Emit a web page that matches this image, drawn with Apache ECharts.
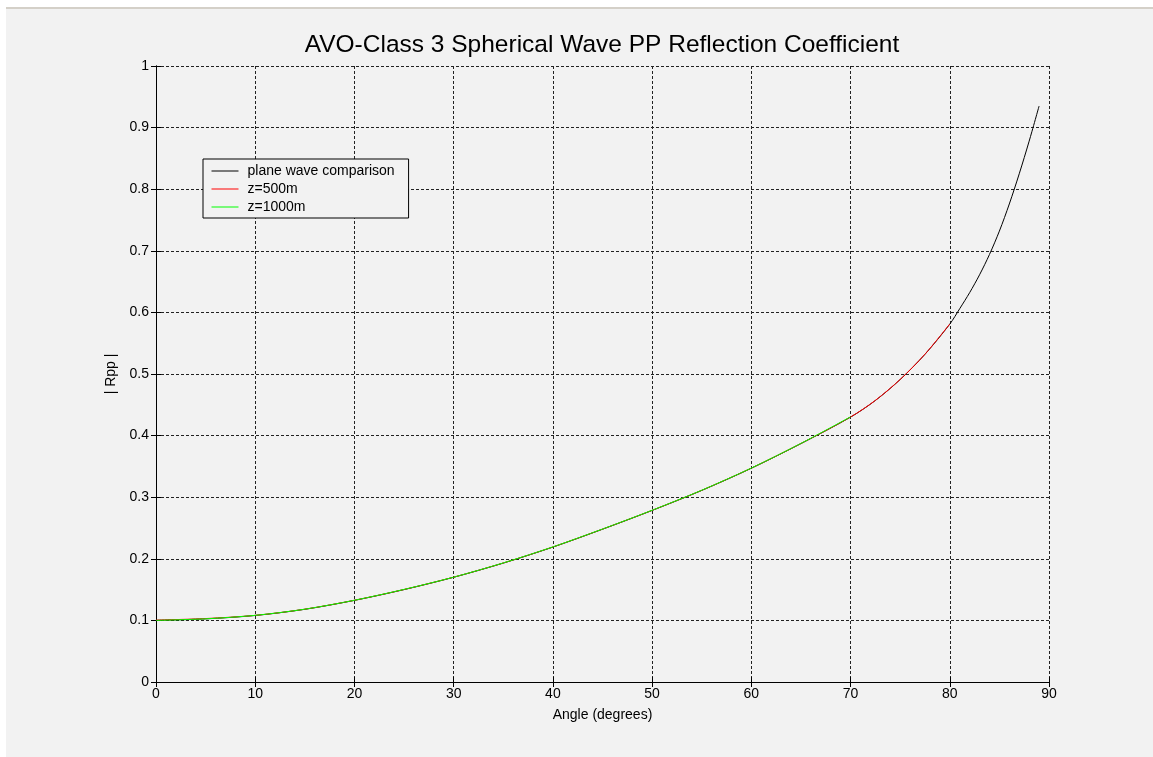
<!DOCTYPE html>
<html>
<head>
<meta charset="utf-8">
<script src="https://cdn.jsdelivr.net/npm/echarts@6/dist/echarts.min.js"></script>
<style>
html,body{margin:0;padding:0;background:#ffffff;width:1153px;height:757px;overflow:hidden;}
#bg{position:absolute;left:6px;top:7px;width:1147px;height:750px;background:#f2f2f2;border-top:2px solid #d4d0c8;box-sizing:border-box;}
#chart{position:absolute;left:0;top:0;width:1153px;height:757px;}
</style>
</head>
<body>
<div id="bg"></div>
<div id="chart"></div>
<script>
// Angles (degrees)
const anglesPlane = [0, 5, 10, 15, 20, 25, 30, 35, 40, 45, 50, 55, 60, 65, 70, 72.5, 75, 77.5, 80, 81, 82, 83, 84, 85, 86, 87, 88, 89];
const rppPlane    = [0.100, 0.1025, 0.108, 0.118, 0.1325, 0.150, 0.170, 0.193, 0.219, 0.248, 0.2785, 0.311, 0.347, 0.387, 0.430, 0.457, 0.491, 0.532, 0.581, 0.606, 0.632, 0.661, 0.694, 0.732, 0.776, 0.825, 0.878, 0.935];

const angles500 = [0, 5, 10, 15, 20, 25, 30, 35, 40, 45, 50, 55, 60, 65, 70, 72.5, 75, 77.5, 80];
const rpp500    = [0.1005, 0.103, 0.1082, 0.1182, 0.1327, 0.1502, 0.1702, 0.1932, 0.2192, 0.2482, 0.2787, 0.3112, 0.3472, 0.3872, 0.4302, 0.4572, 0.4912, 0.5322, 0.5812];

const angles1000 = [0, 5, 10, 15, 20, 25, 30, 35, 40, 45, 50, 55, 60, 65, 70];
const rpp1000    = [0.100, 0.1026, 0.1082, 0.1182, 0.1327, 0.1503, 0.1702, 0.1933, 0.2193, 0.2483, 0.2788, 0.3113, 0.3473, 0.3873, 0.4305];

const xTicks = [0, 10, 20, 30, 40, 50, 60, 70, 80, 90];
const yTicks = [0, 0.1, 0.2, 0.3, 0.4, 0.5, 0.6, 0.7, 0.8, 0.9, 1];

const FONT = '"Liberation Sans", Arial, sans-serif';
const pairs = (xs, ys) => xs.map((x, i) => [x, ys[i]]);

const chart = echarts.init(document.getElementById('chart'), null, {renderer: 'canvas'});
const gridLine = {show: true, lineStyle: {color: '#222', type: [3, 2], width: 1}};
const axisLine = {show: true, lineStyle: {color: '#000', width: 1}};
const tick = {show: true, inside: true, length: 5, lineStyle: {color: '#000'}};

chart.setOption({
  backgroundColor: 'transparent',
  animation: false,
  title: {
    text: 'AVO-Class 3 Spherical Wave PP Reflection Coefficient',
    left: 597, top: 28, textAlign: 'center',
    textStyle: {fontFamily: FONT, fontSize: 24.5, fontWeight: 'normal', color: '#000'}
  },
  legend: {
    orient: 'vertical',
    left: 203, top: 159,
    padding: [5, 14, 4, 8],
    itemWidth: 27, itemHeight: 14, itemGap: 4,
    borderColor: '#000', borderWidth: 1,
    backgroundColor: '#f2f2f2',
    itemStyle: {opacity: 0},
    lineStyle: {width: 1},
    textStyle: {fontFamily: FONT, fontSize: 14, color: '#000', padding: [0, 0, 0, 4]},
    data: ['plane wave comparison', 'z=500m', 'z=1000m']
  },
  grid: {left: 156, right: 104, top: 66, bottom: 75, containLabel: false},
  xAxis: [{
    type: 'value', min: 0, max: 90, interval: 10,
    name: 'Angle (degrees)', nameLocation: 'middle', nameGap: 26,
    nameTextStyle: {fontFamily: FONT, fontSize: 14, color: '#000'},
    axisLine: axisLine, axisTick: tick, splitLine: gridLine,
    axisLabel: {fontFamily: FONT, fontSize: 14, color: '#000', margin: 5,
      formatter: v => xTicks.includes(v) ? String(v) : ''}
  }, {
    type: 'value', min: 0, max: 90, interval: 10, position: 'top',
    axisLine: axisLine, axisTick: tick, splitLine: {show: false}, axisLabel: {show: false}
  }],
  yAxis: [{
    type: 'value', min: 0, max: 1, interval: 0.1,
    name: '| Rpp |', nameLocation: 'middle', nameGap: 36,
    nameTextStyle: {fontFamily: FONT, fontSize: 14, color: '#000'},
    axisLine: axisLine, axisTick: tick, splitLine: gridLine,
    axisLabel: {fontFamily: FONT, fontSize: 14, color: '#000', margin: 7,
      formatter: v => { const t = yTicks.find(y => Math.abs(y - v) < 1e-9); return t === undefined ? '' : String(t); }}
  }, {
    type: 'value', min: 0, max: 1, interval: 0.1, position: 'right',
    axisLine: axisLine, axisTick: tick, splitLine: {show: false}, axisLabel: {show: false}
  }],
  series: [
    {name: 'plane wave comparison', type: 'line', data: pairs(anglesPlane, rppPlane),
     symbol: 'none', smooth: 0.3, color: '#000000', lineStyle: {width: 1, color: '#000000'}, z: 2},
    {name: 'z=500m', type: 'line', data: pairs(angles500, rpp500),
     symbol: 'none', smooth: 0.3, color: '#ff0000', lineStyle: {width: 1, color: '#ff0000'}, z: 3},
    {name: 'z=1000m', type: 'line', data: pairs(angles1000, rpp1000),
     symbol: 'none', smooth: 0.3, color: '#00ff00', lineStyle: {width: 1, color: '#00ff00'}, z: 4}
  ]
});
</script>
</body>
</html>
